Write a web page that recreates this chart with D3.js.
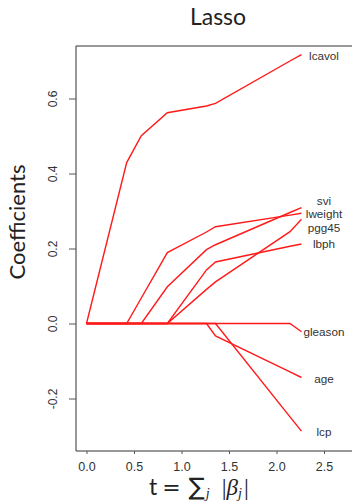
<!DOCTYPE html>
<html>
<head>
<meta charset="utf-8">
<script src="https://cdn.jsdelivr.net/npm/d3@7"></script>
<style>
  body { margin: 0; background: #fff; }
  svg text { fill: #222; }
</style>
</head>
<body>
<div id="chart"></div>
<script>

// knots of the lasso path, t = sum |beta_j|
var knots = [0, 0.423, 0.577, 0.851, 1.263, 1.358, 2.142, 2.263];

var names = ["lcavol", "svi", "lweight", "pgg45", "lbph", "gleason", "age", "lcp"];

var lcavol  = [0, 0.429, 0.501, 0.562, 0.580, 0.587, 0.700, 0.717],
    svi     = [0, 0, 0, 0.098, 0.197, 0.210, 0.296, 0.309],
    lweight = [0, 0, 0.068, 0.189, 0.244, 0.258, 0.289, 0.294],
    pgg45   = [0, 0, 0, 0, 0.091, 0.111, 0.245, 0.278],
    lbph    = [0, 0, 0, 0, 0.143, 0.164, 0.206, 0.212],
    gleason = [0, 0, 0, 0, 0, 0, 0, -0.022],
    age     = [0, 0, 0, 0, 0, -0.033, -0.129, -0.144],
    lcp     = [0, 0, 0, 0, 0, 0, -0.249, -0.287];

// where the name tags sit (coefficient units), nudged apart where they crowd
var labelAt = [0.713, 0.327, 0.292, 0.256, 0.212, -0.023, -0.147, -0.289];

var xTicks = [0, 0.5, 1, 1.5, 2, 2.5],
    yTicks = [-0.2, 0, 0.2, 0.4, 0.6];

var series = [lcavol, svi, lweight, pgg45, lbph, gleason, age, lcp];

var svg_dx = 352, svg_dy = 502;
var box = {left: 76, top: 46, bottom: 451};

var x = d3.scaleLinear().domain([0, 2.5]).range([86.5, 324]),
    y = d3.scaleLinear().domain([-0.2, 0.6]).range([398.5, 98.5]);

var svg = d3.select("#chart")
            .append("svg")
            .attr("width", svg_dx)
            .attr("height", svg_dy);

// title
svg.append("text")
   .attr("x", 218)
   .attr("y", 25)
   .attr("text-anchor", "middle")
   .style("font-family", "Lato")
   .style("font-size", "23px")
   .text("Lasso");

// paths
var line = d3.line()
    .x((d, i) => x(knots[i]))
    .y(d => y(d));

svg.append("g")
   .selectAll("path")
   .data(series)
   .enter()
   .append("path")
   .attr("d", line)
   .style("fill", "none")
   .style("stroke", "#ff1a1a")
   .style("stroke-width", 1.4);

// labels at the right end
svg.append("g")
   .selectAll("text")
   .data(names)
   .enter()
   .append("text")
   .attr("x", 324)
   .attr("y", (d, i) => y(labelAt[i]))
   .attr("dy", "0.35em")
   .attr("text-anchor", "middle")
   .style("font-family", "Liberation Sans")
   .style("font-size", "11.7px")
   .style("fill", "#333")
   .text(d => d);

// frame (runs off the right edge)
svg.append("path")
   .attr("d", "M" + (svg_dx + 5) + "," + box.top + "H" + box.left + "V" + box.bottom + "H" + (svg_dx + 5))
   .style("fill", "none")
   .style("stroke", "#333")
   .style("stroke-width", 1);

// y axis
var axis_y = svg.append("g")
    .attr("transform", "translate(" + box.left + ",0)")
    .call(d3.axisLeft(y).tickValues(yTicks).tickSize(7).tickFormat(d => d.toFixed(1)));
axis_y.select(".domain").remove();
axis_y.selectAll("line").attr("stroke", "#555");
axis_y.selectAll("text")
      .attr("x", null).attr("dy", null)
      .attr("text-anchor", "middle")
      .attr("transform", "translate(-19.5,0) rotate(-90)")
      .style("font-family", "Liberation Sans")
      .style("font-size", "12px")
      .style("fill", "#333");

// x axis
var axis_x = svg.append("g")
    .attr("transform", "translate(0," + box.bottom + ")")
    .call(d3.axisBottom(x).tickValues(xTicks).tickSize(3).tickPadding(8).tickFormat(d => d.toFixed(1)));
axis_x.select(".domain").remove();
axis_x.selectAll("line").attr("stroke", "#555");
axis_x.selectAll("text")
      .style("font-family", "Liberation Sans")
      .style("font-size", "12.5px")
      .style("fill", "#333");

// y title
svg.append("text")
   .attr("transform", "translate(25,222) rotate(-90)")
   .attr("text-anchor", "middle")
   .style("font-family", "Lato")
   .style("font-size", "22px")
   .text("Coefficients");

// x title: t = sum_j |beta_j|
var xt = svg.append("text")
   .attr("x", 149)
   .attr("y", 495)
   .style("font-size", "22px")
   .style("font-family", "DejaVu Serif");
xt.append("tspan").style("font-family", "Lato").style("font-size", "23px").text("t");
xt.append("tspan").attr("dx", 5).style("font-size", "22px").text("=");
xt.append("tspan").attr("dx", 8).style("font-family", "DejaVu Sans").style("font-size", "24px").text("\u2211");
xt.append("tspan").attr("dx", 1).attr("dy", 3).style("font-size", "14px").style("font-style", "italic").style("font-family", "Liberation Serif").text("j");
xt.append("tspan").attr("dy", -3).attr("dx", 12).style("font-family", "Liberation Serif").style("font-size", "24px").text("|");
xt.append("tspan").style("font-style", "italic").style("font-family", "Liberation Serif").style("font-size", "23px").text("\u03b2");
xt.append("tspan").attr("dy", 3).style("font-size", "14px").style("font-style", "italic").style("font-family", "Liberation Serif").text("j");
xt.append("tspan").attr("dy", -3).attr("dx", 2).style("font-family", "Liberation Serif").style("font-size", "24px").text("|");

</script>
</body>
</html>
